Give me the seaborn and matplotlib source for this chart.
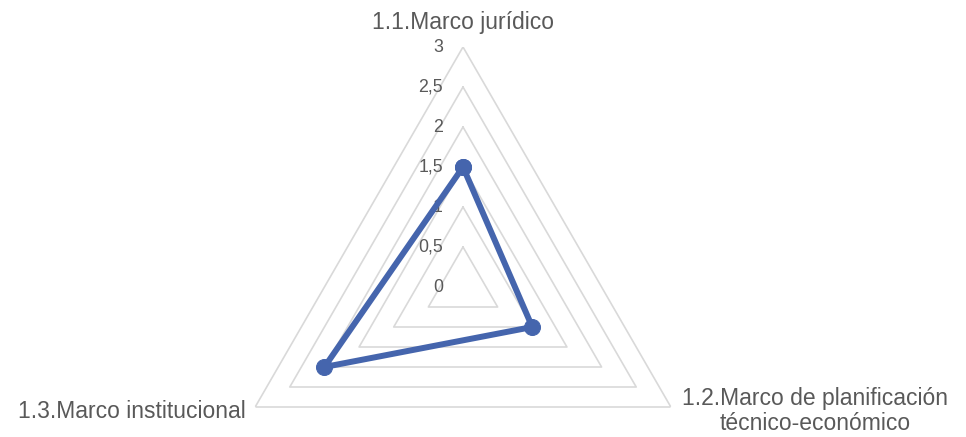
import numpy as np
import pandas as pd
import matplotlib
matplotlib.use("Agg")
import matplotlib.pyplot as plt
import seaborn as sns

categories = ["1.1.Marco jurídico",
              "1.2.Marco de planificación\ntécnico-económico",
              "1.3.Marco institucional"]
values = [1.5, 1.0, 2.0]
ring_levels = [0.5, 1.0, 1.5, 2.0, 2.5, 3.0]
tick_levels = [0, 0.5, 1.0, 1.5, 2.0, 2.5, 3.0]
tick_labels = ["0", "0,5", "1", "1,5", "2", "2,5", "3"]

sns.set_theme(style="white")
plt.rcParams["font.family"] = ["Liberation Sans", "DejaVu Sans"]

W, H = 966, 437
cx, cy, R = 463, 287, 240
fig = plt.figure(figsize=(W / 100, H / 100), dpi=100)
ax = fig.add_axes([(cx - R) / W, (H - cy - R) / H, 2 * R / W, 2 * R / H],
                  projection="polar")
ax.set_theta_zero_location("N")
ax.set_theta_direction(-1)
ax.set_ylim(0, 3)
ax.set_facecolor("none")
ax.grid(False)
ax.spines["polar"].set_visible(False)
ax.set_xticks([])
ax.set_yticks([])

n = len(categories)
angles = np.arange(n) * 2 * np.pi / n
closed = np.append(angles, 2 * np.pi)

# triangular gridlines
for lvl in ring_levels:
    ax.plot(closed, [lvl] * (n + 1), color="#D9D9D9", lw=1.2, zorder=1)

# value labels along the vertical axis
for t, lab in zip(tick_levels, tick_labels):
    ax.annotate(lab, xy=(0, t), xytext=(-14.5, 0), textcoords="offset points",
                ha="right", va="center", fontsize=12.8, color="#595959",
                annotation_clip=False, zorder=2)

df = pd.DataFrame({"theta": closed, "value": values + [values[0]]})
sns.lineplot(data=df, x="theta", y="value", sort=False, estimator=None, ax=ax,
             color="#4565AD", lw=4.3, marker="o", markersize=11.5,
             markeredgecolor="#4565AD", zorder=3)
ax.set_xlabel("")
ax.set_ylabel("")

# category labels
ax.annotate(categories[0], xy=(angles[0], 3), xytext=(0, 18),
            textcoords="offset points", ha="center", va="center",
            fontsize=16.5, color="#595959", annotation_clip=False)
ax.annotate(categories[1], xy=(angles[1], 3), xytext=(8, -3),
            textcoords="offset points", ha="left", va="center",
            multialignment="center", fontsize=16.5, color="#595959",
            annotation_clip=False, linespacing=1.12)
ax.annotate(categories[2], xy=(angles[2], 3), xytext=(-7, -3),
            textcoords="offset points", ha="right", va="center",
            fontsize=16.5, color="#595959", annotation_clip=False)

fig.savefig("out.png", dpi=100)
